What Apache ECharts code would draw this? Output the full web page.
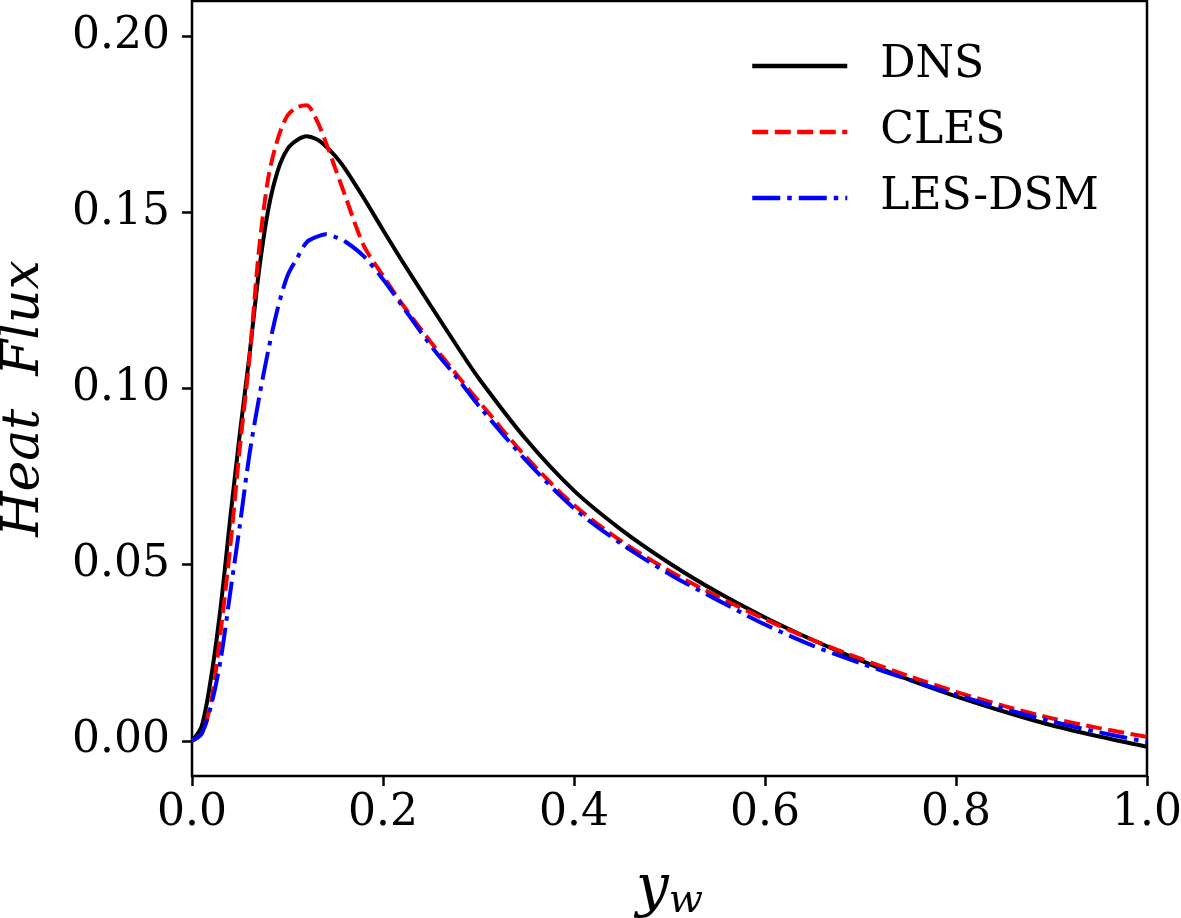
<!DOCTYPE html>
<html>
<head>
<meta charset="utf-8">
<script src="https://cdn.jsdelivr.net/npm/echarts@6/dist/echarts.min.js"></script>
<style>html,body{margin:0;padding:0;background:#fff}#c{width:1181px;height:918px}</style>
</head>
<body>
<div id="c"></div>
<script>
const xs = [0, 0.01, 0.02, 0.03, 0.04, 0.05, 0.06, 0.07, 0.08, 0.09, 0.10, 0.11, 0.12, 0.13, 0.14, 0.15, 0.16, 0.18, 0.20, 0.22, 0.25, 0.28, 0.30, 0.35, 0.40, 0.45, 0.50, 0.55, 0.60, 0.65, 0.70, 0.75, 0.80, 0.85, 0.90, 0.95, 1.00];
const dns = [0, 0.004, 0.018, 0.038, 0.063, 0.087, 0.109, 0.133, 0.151, 0.162, 0.168, 0.1705, 0.1716, 0.1708, 0.1688, 0.1660, 0.1625, 0.1540, 0.1450, 0.1362, 0.1235, 0.111, 0.1030, 0.0855, 0.0710, 0.0598, 0.0504, 0.0422, 0.0350, 0.0286, 0.0228, 0.0174, 0.0126, 0.0083, 0.0044, 0.0012, -0.0017];
const cles = [0, 0.002, 0.011, 0.031, 0.055, 0.083, 0.108, 0.139, 0.160, 0.171, 0.1775, 0.1798, 0.1804, 0.1765, 0.170, 0.1625, 0.155, 0.1405, 0.132, 0.124, 0.1132, 0.103, 0.0965, 0.0805, 0.0669, 0.0566, 0.0482, 0.0410, 0.0345, 0.0286, 0.0233, 0.0184, 0.0139, 0.0099, 0.0064, 0.0036, 0.0011];
const lesdsm = [0, 0.002, 0.010, 0.023, 0.042, 0.061, 0.081, 0.097, 0.111, 0.123, 0.132, 0.137, 0.1415, 0.143, 0.1438, 0.143, 0.1418, 0.1375, 0.131, 0.1235, 0.1122, 0.1022, 0.0952, 0.0795, 0.0660, 0.0558, 0.0473, 0.0400, 0.0330, 0.0270, 0.0220, 0.0174, 0.0131, 0.0091, 0.0055, 0.0024, -0.0003];
const yTicks = [0, 0.05, 0.10, 0.15, 0.20];
const seriesNames = ['DNS', 'CLES', 'LES-DSM'];

const pair = (ys) => xs.map((x, i) => [x, ys[i]]);
const font = 'DejaVu Serif';
const chart = echarts.init(document.getElementById('c'), null, {renderer: 'canvas'});
chart.setOption({
  animation: false,
  backgroundColor: '#fff',
  grid: {left: 192, right: 34, top: 1, bottom: 142, outerBoundsMode: 'none', containLabel: false, show: true, borderColor: '#000', borderWidth: 2.5, backgroundColor: 'transparent'},
  legend: {
    orient: 'vertical', left: 745, top: 39, itemWidth: 95, itemHeight: 14, itemGap: 22,
    data: seriesNames,
    itemStyle: {opacity: 0, borderWidth: 0},
    lineStyle: {width: 4.5},
    textStyle: {fontFamily: font, fontSize: 44, color: '#000', padding: [0, 0, 0, 28]}
  },
  xAxis: {
    type: 'value', min: 0, max: 1, interval: 0.2,
    name: '{y|y}{w|w}', nameLocation: 'middle', nameGap: 82,
    nameTextStyle: {rich: {y: {fontFamily: font, fontStyle: 'italic', fontSize: 58, color: '#000'}, w: {fontFamily: font, fontStyle: 'italic', fontSize: 40, color: '#000', padding: [24, 0, 0, 0]}}},
    axisLine: {show: false, onZero: false},
    axisTick: {show: true, inside: false, length: 10, lineStyle: {color: '#000', width: 2.5}},
    axisLabel: {fontFamily: font, fontSize: 44, color: '#000', margin: 16, formatter: v => v.toFixed(1)},
    splitLine: {show: false}
  },
  yAxis: {
    type: 'value', min: -0.01, max: 0.21,
    name: 'Heat  Flux', nameLocation: 'middle', nameGap: 142,
    nameTextStyle: {fontFamily: font, fontStyle: 'italic', fontSize: 52, color: '#000', padding: [0, 20, 0, 0]},
    axisLine: {show: false, onZero: false},
    axisTick: {show: true, inside: false, length: 10, customValues: yTicks, lineStyle: {color: '#000', width: 2.5}},
    axisLabel: {fontFamily: font, fontSize: 44, color: '#000', margin: 22, customValues: yTicks, formatter: v => v.toFixed(2)},
    splitLine: {show: false}
  },
  series: [
    {name: seriesNames[0], type: 'line', data: pair(dns), showSymbol: false, symbol: 'none', smooth: 0.3, lineStyle: {color: '#000', width: 4, type: 'solid'}, itemStyle: {color: '#000'}, z: 3},
    {name: seriesNames[1], type: 'line', data: pair(cles), showSymbol: false, symbol: 'none', smooth: 0.3, lineStyle: {color: '#ff0000', width: 4, type: [16, 6.5]}, itemStyle: {color: '#ff0000'}, z: 4},
    {name: seriesNames[2], type: 'line', data: pair(lesdsm), showSymbol: false, symbol: 'none', smooth: 0.3, lineStyle: {color: '#0000ff', width: 4, type: [28, 7, 4.5, 7]}, itemStyle: {color: '#0000ff'}, z: 5}
  ]
});
</script>
</body>
</html>
